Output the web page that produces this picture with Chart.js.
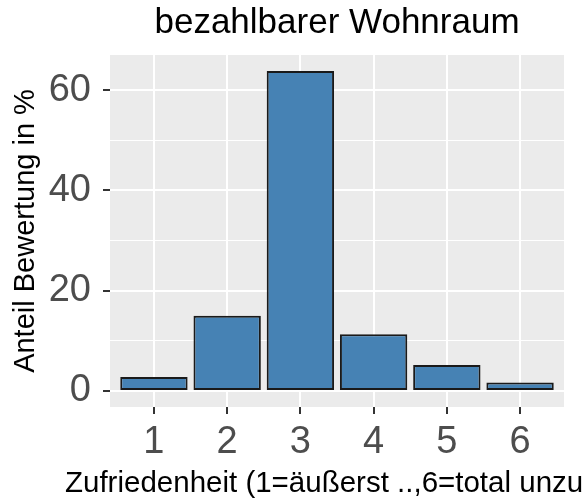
<!DOCTYPE html>
<html>
<head>
<meta charset="utf-8">
<script src="https://cdn.jsdelivr.net/npm/chart.js@4/dist/chart.umd.min.js"></script>
<style>
  html, body { margin: 0; padding: 0; background: #fff; }
  #wrap { width: 582px; height: 503px; }
</style>
</head>
<body>
<div id="wrap"><canvas id="chart"></canvas></div>
<script>
// Werte
const categories = [1, 2, 3, 4, 5, 6];
const shares = [2.8, 15.0, 63.8, 11.3, 5.2, 1.7];
const yTicks = [0, 10, 20, 30, 40, 50, 60];
const yLabelled = [0, 20, 40, 60];

const chartTitle = 'bezahlbarer Wohnraum';
const xTitle = 'Zufriedenheit (1=äußerst ..,6=total unzufrieden)';
const yTitle = 'Anteil Bewertung in %';

const FONT = "'Liberation Sans', Arial, sans-serif";

// grauer Panel-Hintergrund und x-Achsentitel (links beginnend, rechts abgeschnitten)
const ggPanel = {
  id: 'ggPanel',
  beforeDraw(chart) {
    const { ctx, chartArea: a } = chart;
    ctx.save();
    ctx.fillStyle = '#EBEBEB';
    ctx.fillRect(a.left, a.top, a.right - a.left, a.bottom - a.top);
    ctx.restore();
  },
  afterDraw(chart) {
    const ctx = chart.ctx;
    ctx.save();
    ctx.font = '29.5px ' + FONT;
    ctx.fillStyle = '#000';
    ctx.textAlign = 'left';
    ctx.textBaseline = 'alphabetic';
    ctx.fillText(xTitle, 65, 492);
    ctx.restore();
  }
};

new Chart(document.getElementById('chart'), {
  type: 'bar',
  data: {
    datasets: [{
      data: categories.map((c, i) => ({ x: c, y: shares[i] })),
      backgroundColor: '#4682B4',
      borderColor: '#1a1a1a',
      borderWidth: 2,
      borderSkipped: false,
      barPercentage: 0.92,
      categoryPercentage: 1
    }]
  },
  options: {
    responsive: true,
    maintainAspectRatio: false,
    animation: false,
    layout: { padding: { top: 0, right: 18, bottom: 0, left: 0 } },
    plugins: {
      legend: { display: false },
      tooltip: { enabled: false },
      title: {
        display: true,
        text: chartTitle,
        fullSize: false,
        color: '#000',
        font: { family: FONT, size: 35, weight: 'normal' },
        padding: { top: 2, bottom: 11 }
      }
    },
    scales: {
      x: {
        type: 'linear',
        offset: false,
        min: 0.4,
        max: 6.6,
        afterBuildTicks: (s) => { s.ticks = categories.map(v => ({ value: v })); },
        afterFit: (s) => { s.height = 96; },
        border: { display: false },
        grid: {
          offset: false,
          color: '#fff',
          lineWidth: 2,
          tickLength: 7,
          tickColor: '#333',
          tickWidth: 2
        },
        ticks: {
          color: '#4D4D4D',
          padding: 6,
          font: { family: FONT, size: 38 },
          callback: (v) => String(v)
        }
      },
      y: {
        min: -3.19,
        max: 67,
        afterBuildTicks: (s) => { s.ticks = yTicks.map(v => ({ value: v })); },
        afterFit: (s) => { s.width = 110; },
        border: { display: false },
        grid: {
          color: '#fff',
          lineWidth: (c) => (yLabelled.includes(c.tick.value) ? 2 : 1),
          tickLength: 7,
          tickColor: (c) => (yLabelled.includes(c.tick.value) ? '#333' : 'rgba(0,0,0,0)'),
          tickWidth: 2
        },
        ticks: {
          color: '#4D4D4D',
          padding: 12,
          font: { family: FONT, size: 38 },
          callback: (v) => (yLabelled.includes(v) ? String(v) : '')
        },
        title: {
          display: true,
          text: yTitle,
          color: '#000',
          font: { family: FONT, size: 29 },
          padding: { top: 9, bottom: 0 }
        }
      }
    }
  },
  plugins: [ggPanel]
});
</script>
</body>
</html>
